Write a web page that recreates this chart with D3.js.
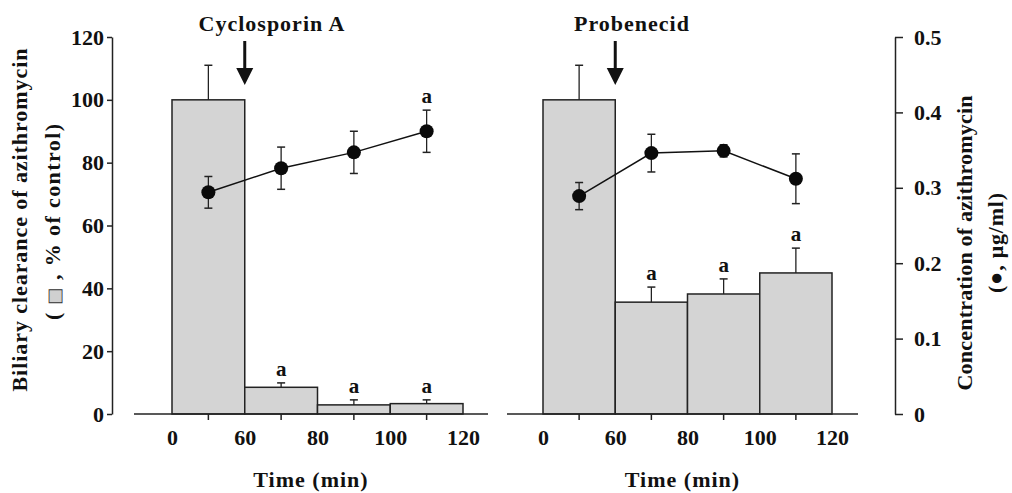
<!DOCTYPE html>
<html>
<head>
<meta charset="UTF-8">
<title>Azithromycin biliary clearance</title>
<script src="https://d3js.org/d3.v7.min.js"></script>
<style>
  * { margin: 0; padding: 0; box-sizing: border-box; }
  body { background: #fff; font-family: "Liberation Serif", "DejaVu Serif", serif; }
  text { font-family: "Liberation Serif", "DejaVu Serif", serif; font-weight: bold; fill: #111; }
</style>
</head>
<body>
<div id="chart"></div>
<script>
// time intervals (bars) and edge labels on the x axis
const intervals = ["0-60", "60-80", "80-100", "100-120"];
const edgeLabels = ["0", "60", "80", "100", "120"];

// Cyclosporin A panel
const csaClearance = [100, 8.5, 2.9, 3.3];
const csaClearanceErr = [11, 1.4, 1.6, 1.2];
const csaClearanceSig = ["", "a", "a", "a"];
const csaConc = [0.294, 0.326, 0.347, 0.375];
const csaConcErr = [0.021, 0.028, 0.028, 0.028];
const csaConcSig = ["", "", "", "a"];

// Probenecid panel
const prbClearance = [100, 35.6, 38.2, 44.9];
const prbClearanceErr = [11, 4.8, 4.8, 7.9];
const prbClearanceSig = ["", "a", "a", "a"];
const prbConc = [0.289, 0.346, 0.349, 0.312];
const prbConcErr = [0.018, 0.025, 0.008, 0.033];
const prbConcSig = ["", "", "", ""];

const leftTicks = [0, 20, 40, 60, 80, 100, 120];
const rightTicks = [0, 0.1, 0.2, 0.3, 0.4, 0.5];

const W = 1012, H = 493;
const y0 = 414, yTop = 37;

const svg = d3.select("#chart").append("svg")
    .attr("width", W).attr("height", H)
    .style("background", "#fff");

const yL = d3.scaleLinear().domain([0, 120]).range([y0, yTop]);
const yR = d3.scaleLinear().domain([0, 0.5]).range([y0, yTop]);

// left axis
const gl = svg.append("g").attr("transform", "translate(112,0)")
    .call(d3.axisLeft(yL).tickValues(leftTicks).tickSize(5).tickPadding(3).tickSizeOuter(0));
gl.select(".domain").attr("stroke", "#222").attr("stroke-width", 1.5);
gl.selectAll(".tick line").attr("stroke", "#222").attr("stroke-width", 1.5);
gl.selectAll(".tick text").style("font-size", "22px").style("font-weight", "bold")
    .style("font-family", "Liberation Serif").attr("fill", "#111");

// right axis
const gr = svg.append("g").attr("transform", "translate(895,0)")
    .call(d3.axisRight(yR).tickValues(rightTicks).tickSize(8).tickPadding(11).tickSizeOuter(0)
        .tickFormat(d => d === 0 ? "0" : d3.format(".1f")(d)));
gr.select(".domain").attr("stroke", "#222").attr("stroke-width", 1.5);
gr.selectAll(".tick line").attr("stroke", "#222").attr("stroke-width", 1.5);
gr.selectAll(".tick text").style("font-size", "22px").style("font-weight", "bold")
    .style("font-family", "Liberation Serif").attr("fill", "#111");

// axis titles
svg.append("text")
    .attr("transform", "translate(27,220) rotate(-90)")
    .attr("text-anchor", "middle")
    .style("font-size", "22px")
    .attr("textLength", 343).attr("lengthAdjust", "spacing")
    .text("Biliary clearance of azithromycin");
const lt2 = svg.append("text")
    .attr("transform", "translate(60,222) rotate(-90)")
    .attr("text-anchor", "middle")
    .style("font-size", "22px")
    .attr("textLength", 196).attr("lengthAdjust", "spacing");
lt2.append("tspan").text("( ");
lt2.append("tspan").text("■").style("font-size", "17px").style("font-family", "DejaVu Sans")
    .attr("fill", "#d0d0d0").attr("stroke", "#333").attr("stroke-width", 0.8);
lt2.append("tspan").text(" , % of control)");

svg.append("text")
    .attr("transform", "translate(972,243) rotate(-90)")
    .attr("text-anchor", "middle")
    .style("font-size", "22px")
    .attr("textLength", 295).attr("lengthAdjust", "spacing")
    .text("Concentration of azithromycin");
svg.append("text")
    .attr("transform", "translate(1003,243) rotate(-90)")
    .attr("text-anchor", "middle")
    .style("font-size", "22px")
    .attr("textLength", 100).attr("lengthAdjust", "spacing")
    .text("(●, μg/ml)");

const panels = [
  { title: "Cyclosporin A", titleX: 272, bars: [172, 463], base: [134, 488],
    clr: csaClearance, clrErr: csaClearanceErr, clrSig: csaClearanceSig,
    conc: csaConc, concErr: csaConcErr, concSig: csaConcSig },
  { title: "Probenecid", titleX: 632, bars: [543, 832], base: [507, 858],
    clr: prbClearance, clrErr: prbClearanceErr, clrSig: prbClearanceSig,
    conc: prbConc, concErr: prbConcErr, concSig: prbConcSig }
];

panels.forEach(p => {
  const g = svg.append("g");
  const xb = d3.scaleBand().domain(intervals).range(p.bars).paddingInner(0).paddingOuter(0);
  const xe = d3.scalePoint().domain(edgeLabels).range(p.bars);
  const cx = d => xb(d) + xb.bandwidth() / 2;

  // bars
  g.selectAll("rect.bar").data(intervals).join("rect")
      .attr("class", "bar")
      .attr("x", d => xb(d))
      .attr("y", (d, i) => yL(p.clr[i]))
      .attr("width", xb.bandwidth())
      .attr("height", (d, i) => y0 - yL(p.clr[i]))
      .attr("fill", "#d4d4d4")
      .attr("stroke", "#222")
      .attr("stroke-width", 1.5);

  // bar error bars (upper only)
  intervals.forEach((d, i) => {
    const top = yL(p.clr[i] + p.clrErr[i]);
    g.append("line").attr("x1", cx(d)).attr("x2", cx(d))
        .attr("y1", yL(p.clr[i])).attr("y2", top)
        .attr("stroke", "#222").attr("stroke-width", 1.3);
    g.append("line").attr("x1", cx(d) - 4).attr("x2", cx(d) + 4)
        .attr("y1", top).attr("y2", top)
        .attr("stroke", "#222").attr("stroke-width", 1.5);
    if (p.clrSig[i]) {
      g.append("text").attr("x", cx(d)).attr("y", top - 7)
          .attr("text-anchor", "middle").style("font-size", "21px").text(p.clrSig[i]);
    }
  });

  // x baseline
  g.append("line").attr("x1", p.base[0]).attr("x2", p.base[1])
      .attr("y1", y0).attr("y2", y0)
      .attr("stroke", "#222").attr("stroke-width", 1.5);

  // ticks at interval centres
  const tk = g.append("g").attr("transform", `translate(0,${y0})`)
      .call(d3.axisBottom(xb).tickSize(6).tickFormat(""));
  tk.select(".domain").remove();
  tk.selectAll(".tick line").attr("stroke", "#222").attr("stroke-width", 1.5);

  // edge labels
  const lb = g.append("g").attr("transform", `translate(0,${y0})`)
      .call(d3.axisBottom(xe).tickSize(0).tickPadding(15));
  lb.select(".domain").remove();
  lb.selectAll(".tick text").style("font-size", "22px").style("font-weight", "bold")
      .style("font-family", "Liberation Serif").attr("fill", "#111");

  g.append("text").attr("x", (p.base[0] + p.base[1]) / 2).attr("y", 487)
      .attr("text-anchor", "middle").style("font-size", "22px")
      .style("letter-spacing", "1px").text("Time (min)");

  // concentration line
  g.append("path")
      .datum(intervals)
      .attr("fill", "none").attr("stroke", "#111").attr("stroke-width", 1.5)
      .attr("d", d3.line().x(d => cx(d)).y((d, i) => yR(p.conc[i])));

  intervals.forEach((d, i) => {
    const hi = yR(p.conc[i] + p.concErr[i]), lo = yR(p.conc[i] - p.concErr[i]);
    g.append("line").attr("x1", cx(d)).attr("x2", cx(d)).attr("y1", hi).attr("y2", lo)
        .attr("stroke", "#222").attr("stroke-width", 1.3);
    [hi, lo].forEach(yy => g.append("line")
        .attr("x1", cx(d) - 4).attr("x2", cx(d) + 4).attr("y1", yy).attr("y2", yy)
        .attr("stroke", "#222").attr("stroke-width", 1.5));
    if (p.concSig[i]) {
      g.append("text").attr("x", cx(d)).attr("y", hi - 7)
          .attr("text-anchor", "middle").style("font-size", "21px").text(p.concSig[i]);
    }
  });

  g.selectAll("circle").data(intervals).join("circle")
      .attr("cx", d => cx(d))
      .attr("cy", (d, i) => yR(p.conc[i]))
      .attr("r", 7)
      .attr("fill", "#0a0a0a");

  // treatment title and arrow at 60 min
  g.append("text").attr("x", p.titleX).attr("y", 31)
      .attr("text-anchor", "middle").style("font-size", "22px")
      .style("letter-spacing", "1px").text(p.title);
  const ax = xe("60");
  g.append("line").attr("x1", ax).attr("x2", ax).attr("y1", 41).attr("y2", 70)
      .attr("stroke", "#111").attr("stroke-width", 3);
  g.append("path")
      .attr("d", `M${ax - 8.5},68 L${ax + 8.5},68 L${ax},85 Z`)
      .attr("fill", "#111");
});
</script>
</body>
</html>
